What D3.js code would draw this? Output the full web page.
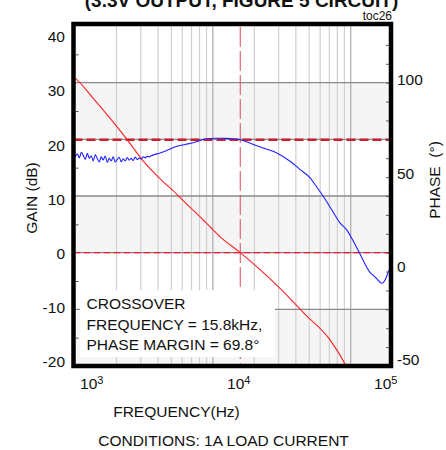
<!DOCTYPE html>
<html>
<head>
<meta charset="utf-8">
<script src="https://cdn.jsdelivr.net/npm/d3@7/dist/d3.min.js"></script>
<style>
  body { margin: 0; background: #fff; }
  svg text { font-family: "Liberation Sans", Arial, sans-serif; fill: #111; }
</style>
</head>
<body>
<svg id="chart" width="446" height="450"></svg>
<script>
// ---- Loop gain (dB) versus frequency (Hz) ----
const gainFreq = [975, 1000, 1360, 1800, 2380, 3140, 4200, 5480, 5960, 8500, 11300, 15800,
                  22000, 30700, 46700, 70800, 92500, 96000];
const gainDb   = [31.0, 30.8, 27.2, 23.7, 20.0, 16.1, 12.9, 10.3, 9.4, 5.8, 2.8, 0.0,
                  -3.0, -6.3, -10.9, -15.4, -20.0, -20.8];

// ---- Loop phase (degrees) versus frequency (Hz) ----
const phaseFreq = [972, 1005, 1039, 1074, 1111, 1148, 1187, 1228, 1269, 1312, 1357, 1403,
                   1450, 1500, 1550, 1603, 1657, 1714, 1772, 1832, 1894, 1958, 2025, 2093,
                   2164, 2238, 2314, 2392, 2473, 2557, 2644, 2733, 2826, 2922, 3021, 3123,
                   3229, 3339, 3452, 3569, 4150, 4800, 5480, 6300, 7200, 8100, 9050, 10500,
                   12600, 14000, 15800, 19700, 24000, 29100, 36300, 43000, 50700, 57000,
                   63000, 73000, 83600, 93500, 105000, 116800, 138000, 150000, 160000,
                   168000, 176000, 187000, 196000];
const phaseDeg  = [63.5, 61.0, 62.4, 60.2, 63.2, 61.5, 59.4, 62.6, 60.0, 61.3, 58.6, 61.9,
                   59.8, 58.0, 60.7, 59.1, 61.2, 57.8, 59.9, 58.6, 60.8, 58.0, 59.4, 60.5,
                   58.1, 59.7, 58.5, 60.4, 59.0, 59.9, 58.8, 60.6, 59.3, 60.1, 59.6, 60.8,
                   60.2, 61.0, 60.7, 61.3, 62.8, 64.6, 66.3, 67.3, 68.2, 69.4, 70.3, 70.6,
                   70.5, 70.3, 69.8, 67.3, 65.0, 62.8, 58.4, 54.0, 49.6, 44.5,
                   40.0, 32.6, 25.8, 22.1, 15.8, 9.3, -0.4, -2.8, -5.0,
                   -6.2, -5.0, -0.4, 2.6];

// ---- Crossover annotation ----
const crossoverHz = 15800;
const phaseMarginDeg = 69.8;
const noteLines = ["CROSSOVER", "FREQUENCY = 15.8kHz,", "PHASE MARGIN = 69.8°"];

// ---- Axis ticks and grid ----
const freqTicks  = [1e3, 1e4, 1e5];
const gainTicks  = [-20, -10, 0, 10, 20, 30, 40];
const phaseTicks = [-50, 0, 50, 100];
const freqGrid   = [2e3, 3e3, 4e3, 5e3, 6e3, 7e3, 8e3, 9e3, 1e4,
                    2e4, 3e4, 4e4, 5e4, 6e4, 7e4, 8e4, 9e4, 1e5];
const freqDecades = [1e4, 1e5];
const gainGrid   = [30, 20, 10, 0, -10];
const gainBands  = [[20, 30], [0, 10], [-20, -10]];
const gainMinor  = [-15, -5, 5, 15, 25, 35];
const phaseMinor = [-40, -30, -20, -10, 0, 10, 20, 30, 40, 50, 60, 70, 80, 90, 100, 110, 120];

const svg = d3.select("#chart");

// Plot frame
const L = 73.5, R = 391, T = 24, B = 366;

// Data scales
const x = d3.scaleLog().domain([975, 196000]).range([L, R]);
const yGain = d3.scaleLinear().domain([-20, 40]).range([B, 26]);
const yPhase = d3.scaleLinear().domain([-50, 130]).range([B, 26]);

// Scales for the printed axis numbers
const xLab = d3.scaleLog().domain([1e3, 1e5]).range([91.3, 385.3]);
const yGainLab = d3.scaleLinear().domain([-20, 40]).range([362, 36.7]);
const yPhaseLab = d3.scaleLinear().domain([-50, 100]).range([360, 80]);

svg.append("defs").append("clipPath").attr("id", "plot")
  .append("rect").attr("x", L).attr("y", T).attr("width", R - L).attr("height", B - T);

const plot = svg.append("g").attr("clip-path", "url(#plot)");

// Shaded bands
plot.selectAll("rect.band").data(gainBands).join("rect")
  .attr("class", "band")
  .attr("x", L).attr("width", R - L)
  .attr("y", d => yGain(d[1])).attr("height", d => yGain(d[0]) - yGain(d[1]))
  .attr("fill", "#f5f5f5");

// Vertical grid
plot.selectAll("line.vgrid").data(freqGrid).join("line")
  .attr("class", "vgrid")
  .attr("x1", d => x(d)).attr("x2", d => x(d))
  .attr("y1", T).attr("y2", B)
  .attr("stroke", d => freqDecades.includes(d) ? "#aaaaaa" : "#d0d0d0")
  .attr("stroke-width", 1.2);

// Horizontal grid
plot.selectAll("line.hgrid").data(gainGrid).join("line")
  .attr("class", "hgrid")
  .attr("x1", L).attr("x2", R)
  .attr("y1", d => yGain(d)).attr("y2", d => yGain(d))
  .attr("stroke", "#8a8a8a").attr("stroke-width", 1.3);

// Annotation box
const box = svg.append("g");
box.append("rect").attr("x", 80).attr("y", 290).attr("width", 195).attr("height", 67)
  .attr("fill", "#fff");
box.selectAll("text").data(noteLines).join("text")
  .attr("x", 86.5).attr("y", (d, i) => 309 + i * 20.7)
  .attr("font-size", "15.5px").text(d => d);

// 0 dB line
plot.append("line")
  .attr("x1", L).attr("x2", R).attr("y1", yGain(0)).attr("y2", yGain(0))
  .attr("stroke", "#e02030").attr("stroke-width", 1.4).attr("stroke-dasharray", "7,3");

// Phase-margin line
plot.append("line")
  .attr("x1", L).attr("x2", R)
  .attr("y1", yPhase(phaseMarginDeg)).attr("y2", yPhase(phaseMarginDeg))
  .attr("stroke", "#c8202c").attr("stroke-width", 2.4).attr("stroke-dasharray", "9,4");

// Crossover frequency marker
plot.append("line")
  .attr("x1", x(crossoverHz)).attr("x2", x(crossoverHz))
  .attr("y1", T + 3).attr("y2", B)
  .attr("stroke", "#e04858").attr("stroke-width", 1).attr("stroke-dasharray", "20,4");

// Gain curve
plot.append("path")
  .datum(gainFreq.map((f, i) => [f, gainDb[i]]))
  .attr("fill", "none").attr("stroke", "#ff2020").attr("stroke-width", 1.1)
  .attr("d", d3.line().x(d => x(d[0])).y(d => yGain(d[1])).curve(d3.curveMonotoneX));

// Phase curve
plot.append("path")
  .datum(phaseFreq.map((f, i) => [f, phaseDeg[i]]))
  .attr("fill", "none").attr("stroke", "#2020ff").attr("stroke-width", 1.1)
  .attr("d", d3.line().x(d => x(d[0])).y(d => yPhase(d[1])).curve(d3.curveMonotoneX));

// Frame
svg.append("rect").attr("x", L).attr("y", T).attr("width", R - L).attr("height", B - T)
  .attr("fill", "none").attr("stroke", "#000").attr("stroke-width", 4.5);

// Inner tick marks
svg.append("g").attr("transform", `translate(${L + 2},0)`)
  .call(d3.axisRight(yGain).tickValues(gainMinor).tickSize(3).tickFormat(""))
  .call(g => g.select(".domain").remove())
  .selectAll("line").attr("stroke", "#555");
svg.append("g").attr("transform", `translate(${R - 2},0)`)
  .call(d3.axisLeft(yPhase).tickValues(phaseMinor).tickSize(3).tickFormat(""))
  .call(g => g.select(".domain").remove())
  .selectAll("line").attr("stroke", "#555");

// Left axis numbers (gain)
const gl = svg.append("g").attr("transform", "translate(68,0)")
  .call(d3.axisLeft(yGainLab).tickValues(gainTicks).tickSize(0).tickPadding(3)
    .tickFormat(d => String(d)));
gl.select(".domain").remove();
gl.selectAll("text").attr("font-size", "15.5px").attr("font-family", null).attr("fill", "#111");

// Right axis numbers (phase)
const pr = svg.append("g").attr("transform", "translate(394,0)")
  .call(d3.axisRight(yPhaseLab).tickValues(phaseTicks).tickSize(0).tickPadding(3)
    .tickFormat(d => String(d)));
pr.select(".domain").remove();
pr.selectAll("text").attr("font-size", "15.5px").attr("font-family", null).attr("fill", "#111");

// Bottom axis numbers (frequency decades)
const bx = svg.append("g").attr("transform", "translate(0,389)")
  .call(d3.axisBottom(xLab).tickValues(freqTicks).tickSize(0).tickPadding(0));
bx.select(".domain").remove();
bx.selectAll(".tick text").each(function (d) {
  const t = d3.select(this).text(null).attr("dy", null).attr("y", 0)
    .attr("font-size", "15.5px").attr("font-family", null).attr("fill", "#111");
  t.append("tspan").text("10");
  t.append("tspan").attr("dy", "-0.42em").attr("font-size", "11px")
    .text(Math.round(Math.log10(d)));
});

// Titles
svg.append("text").attr("x", 241.5).attr("y", 7).attr("text-anchor", "middle")
  .attr("font-size", "19px").attr("font-weight", "bold")
  .text("(3.3V OUTPUT, FIGURE 5 CIRCUIT)");
svg.append("text").attr("x", 392).attr("y", 20).attr("text-anchor", "end")
  .attr("font-size", "12px").text("toc26");
svg.append("text").attr("x", 176.5).attr("y", 417).attr("text-anchor", "middle")
  .attr("font-size", "15.5px").text("FREQUENCY(Hz)");
svg.append("text").attr("x", 223.5).attr("y", 446).attr("text-anchor", "middle")
  .attr("font-size", "15.5px").text("CONDITIONS: 1A LOAD CURRENT");
svg.append("text").attr("transform", "translate(37,198) rotate(-90)")
  .attr("text-anchor", "middle").attr("font-size", "15.5px").text("GAIN (dB)");
svg.append("text").attr("transform", "translate(440,180) rotate(-90)")
  .attr("text-anchor", "middle").attr("font-size", "15.5px").attr("xml:space", "preserve")
  .text("PHASE  (°)");
</script>
</body>
</html>
